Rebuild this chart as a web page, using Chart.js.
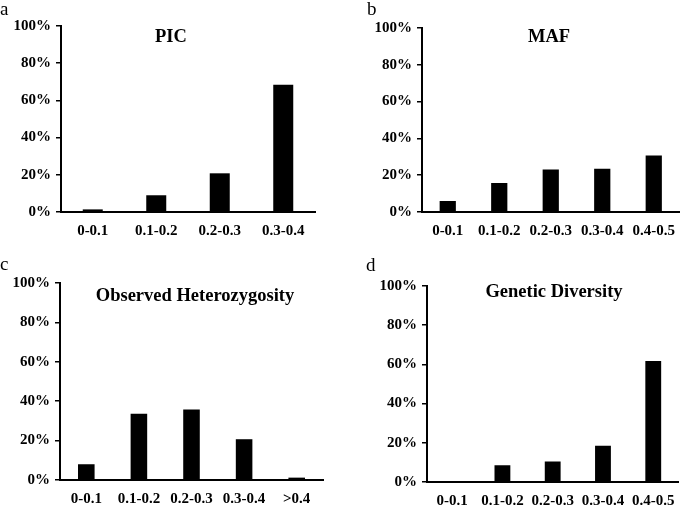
<!DOCTYPE html>
<html>
<head>
<meta charset="utf-8">
<script src="https://cdn.jsdelivr.net/npm/chart.js@4/dist/chart.umd.min.js"></script>
<style>
  html, body { margin: 0; padding: 0; background: #fff; }
  body { width: 685px; height: 507px; position: relative; overflow: hidden; }
  canvas { position: absolute; }
</style>
</head>
<body>
<canvas id="ca" width="340" height="250" style="left:0px;top:0px;"></canvas>
<canvas id="cb" width="345" height="250" style="left:340px;top:0px;"></canvas>
<canvas id="cc" width="340" height="257" style="left:0px;top:250px;"></canvas>
<canvas id="cd" width="345" height="257" style="left:340px;top:250px;"></canvas>
<script>
// ---- data ----
const panelLetters = ['a', 'b', 'c', 'd'];
const panelTitles = ['PIC', 'MAF', 'Observed Heterozygosity', 'Genetic Diversity'];

const picCategories = ['0-0.1', '0.1-0.2', '0.2-0.3', '0.3-0.4'];
const picValues = [1.4, 9.0, 20.8, 68.4];

const mafCategories = ['0-0.1', '0.1-0.2', '0.2-0.3', '0.3-0.4', '0.4-0.5'];
const mafValues = [6.0, 15.8, 23.1, 23.5, 30.7];

const hoCategories = ['0-0.1', '0.1-0.2', '0.2-0.3', '0.3-0.4', '>0.4'];
const hoValues = [8.0, 33.6, 35.8, 20.7, 1.2];

const gdCategories = ['0-0.1', '0.1-0.2', '0.2-0.3', '0.3-0.4', '0.4-0.5'];
const gdValues = [0, 8.5, 10.5, 18.5, 61.7];

const yTickValues = [0, 20, 40, 60, 80, 100];
const yTickSuffix = '%';

// ---- layout / styling ----
const FONT = '"Liberation Serif", "Times New Roman", serif';

const panels = [
  { id: 'ca', cats: picCategories, vals: picValues, title: panelTitles[0], letter: panelLetters[0],
    pad: { top: 26, right: 25, left: 0, bottom: 0 }, yW: 61, xH: 38, tx: 171, ty: 37, lx: 0, ly: 15 },
  { id: 'cb', cats: mafCategories, vals: mafValues, title: panelTitles[1], letter: panelLetters[1],
    pad: { top: 28, right: 0, left: 0, bottom: 0 }, yW: 82, xH: 38, tx: 209, ty: 37.5, lx: 27, ly: 15 },
  { id: 'cc', cats: hoCategories, vals: hoValues, title: panelTitles[2], letter: panelLetters[2],
    pad: { top: 33, right: 17, left: 0, bottom: 0 }, yW: 60, xH: 27, tx: 195, ty: 46.5, lx: 0, ly: 20 },
  { id: 'cd', cats: gdCategories, vals: gdValues, title: panelTitles[3], letter: panelLetters[3],
    pad: { top: 36, right: 5, left: 0, bottom: 0 }, yW: 87, xH: 25, tx: 214, ty: 42.5, lx: 26, ly: 21 }
];

const textPlugin = {
  id: 'panelText',
  afterDraw(chart, args, opts) {
    const ctx = chart.ctx;
    ctx.save();
    ctx.fillStyle = '#000';
    ctx.font = 'bold 18.5px ' + FONT;
    ctx.textAlign = 'center';
    ctx.textBaseline = 'middle';
    ctx.fillText(opts.title, opts.tx, opts.ty);
    ctx.font = '19px ' + FONT;
    ctx.textAlign = 'left';
    ctx.textBaseline = 'alphabetic';
    ctx.fillText(opts.letter, opts.lx, opts.ly);
    ctx.restore();
  }
};

panels.forEach(p => {
  new Chart(document.getElementById(p.id), {
    type: 'bar',
    data: {
      labels: p.cats,
      datasets: [{
        data: p.vals,
        backgroundColor: '#000',
        borderWidth: 0,
        barPercentage: 0.315,
        categoryPercentage: 1.0
      }]
    },
    options: {
      responsive: false,
      animation: false,
      devicePixelRatio: 1,
      layout: { padding: p.pad },
      plugins: {
        legend: { display: false },
        tooltip: { enabled: false },
        title: { display: false },
        panelText: { title: p.title, letter: p.letter, tx: p.tx, ty: p.ty, lx: p.lx, ly: p.ly }
      },
      scales: {
        x: {
          grid: { display: false, drawTicks: false },
          border: { display: true, color: '#000', width: 2 },
          ticks: { color: '#000', font: { family: FONT, size: 15, weight: 'bold' }, padding: 10, maxRotation: 0, autoSkip: false },
          afterFit: s => { s.height = p.xH; }
        },
        y: {
          min: 0,
          max: 100,
          afterBuildTicks: s => { s.ticks = yTickValues.map(v => ({ value: v })); },
          grid: { display: true, drawOnChartArea: false, drawTicks: true, tickLength: 5, color: '#000', lineWidth: 1.5 },
          border: { display: true, color: '#000', width: 2 },
          ticks: { color: '#000', font: { family: FONT, size: 15, weight: 'bold' }, padding: 5,
                   callback: v => v + yTickSuffix },
          afterFit: s => { s.width = p.yW; }
        }
      }
    },
    plugins: [textPlugin]
  });
});
</script>
</body>
</html>
